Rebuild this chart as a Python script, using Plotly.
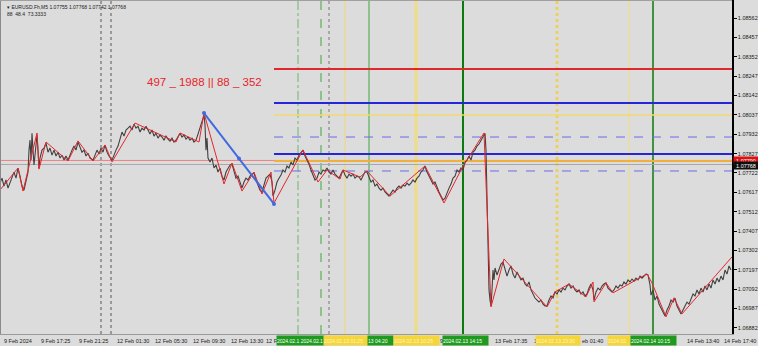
import plotly.graph_objects as go

# ---------------- data ----------------
bars = [0,2,4,6,8,10,12,14,16,18,20,22,24,26,28,29,30,31,32,33,34,36,37,38,39,40,42,44,46,48,50,52,54,56,58,60,62,64,66,68,70,72,74,76,78,80,82,84,86,88,90,93,95,97,99,101,103,105,107,109,112,114,116,118,120,122,124,126,128,130,132,134,136,138,140,142,144,146,148,150,152,154,156,158,160,162,164,166,168,170,172,174,176,178,180,182,184,186,188,190,192,194,196,198,200,202,204,205,206,207,208,210,212,214,216,218,220,222,224,226,228,230,232,234,236,238,240,242,244,246,248,250,252,254,256,258,260,262,264,266,268,270,272,273,275,277,279,281,283,285,287,289,291,293,295,297,299,301,303,305,307,309,311,313,315,317,319,321,323,325,327,329,331,333,335,337,339,341,343,345,347,349,351,353,355,357,359,361,363,365,367,369,371,373,375,377,379,381,383,385,387,389,391,393,395,397,399,401,403,405,407,409,411,413,415,417,419,421,423,425,427,429,431,433,435,437,439,441,443,445,447,449,451,453,455,457,459,461,463,465,467,469,471,473,475,477,479,481,483,485,486,487,488,489,490,491,492,493,494,495,497,499,501,503,505,507,509,511,513,515,517,519,521,523,525,527,529,531,533,535,537,539,541,543,545,547,549,551,553,555,557,559,561,563,565,567,569,571,573,575,577,579,581,583,585,587,589,591,593,594,596,598,600,602,604,606,608,610,612,614,616,618,620,622,624,626,628,630,632,634,636,638,640,642,644,646,648,650,651,653,655,657,659,661,663,665,667,669,671,673,675,677,679,681,683,685,687,689,691,693,695,697,699,701,703,705,707,709,711,713,715,717,719,721,723,725,727,729,731]
close = [1.07667,1.07694,1.07651,1.07684,1.07640,1.07673,1.07705,1.07727,1.07694,1.07749,1.07705,1.07651,1.07629,1.07673,1.07727,1.07846,1.07900,1.07792,1.07938,1.07846,1.07765,1.07873,1.07928,1.07846,1.07749,1.07803,1.07846,1.07857,1.07884,1.07835,1.07857,1.07819,1.07846,1.07814,1.07835,1.07803,1.07819,1.07792,1.07814,1.07792,1.07825,1.07846,1.07868,1.07846,1.07890,1.07857,1.07835,1.07846,1.07814,1.07830,1.07803,1.07792,1.07819,1.07846,1.07825,1.07857,1.07835,1.07873,1.07835,1.07814,1.07792,1.07825,1.07846,1.07868,1.07900,1.07944,1.07922,1.07955,1.07965,1.07976,1.07955,1.07987,1.07965,1.07976,1.07944,1.07965,1.07955,1.07976,1.07955,1.07933,1.07955,1.07922,1.07938,1.07911,1.07928,1.07917,1.07900,1.07922,1.07906,1.07895,1.07911,1.07890,1.07900,1.07922,1.07938,1.07917,1.07928,1.07906,1.07917,1.07900,1.07911,1.07890,1.07900,1.07933,1.07965,1.07998,1.08036,1.07982,1.07846,1.07911,1.07803,1.07781,1.07803,1.07749,1.07765,1.07727,1.07749,1.07705,1.07684,1.07727,1.07749,1.07765,1.07770,1.07727,1.07694,1.07705,1.07667,1.07640,1.07673,1.07694,1.07684,1.07705,1.07716,1.07722,1.07684,1.07651,1.07629,1.07619,1.07662,1.07694,1.07705,1.07716,1.07673,1.07597,1.07629,1.07673,1.07694,1.07711,1.07738,1.07727,1.07760,1.07749,1.07781,1.07765,1.07803,1.07792,1.07819,1.07835,1.07846,1.07814,1.07792,1.07770,1.07738,1.07705,1.07684,1.07694,1.07727,1.07716,1.07738,1.07732,1.07749,1.07727,1.07716,1.07738,1.07716,1.07705,1.07694,1.07716,1.07738,1.07711,1.07694,1.07716,1.07705,1.07716,1.07694,1.07705,1.07700,1.07684,1.07705,1.07727,1.07727,1.07694,1.07673,1.07684,1.07651,1.07662,1.07640,1.07629,1.07640,1.07619,1.07608,1.07597,1.07613,1.07629,1.07619,1.07640,1.07651,1.07640,1.07656,1.07651,1.07667,1.07656,1.07667,1.07684,1.07673,1.07694,1.07705,1.07727,1.07738,1.07760,1.07727,1.07705,1.07684,1.07662,1.07673,1.07640,1.07619,1.07597,1.07575,1.07586,1.07619,1.07640,1.07662,1.07694,1.07705,1.07738,1.07727,1.07749,1.07738,1.07781,1.07792,1.07814,1.07792,1.07835,1.07846,1.07868,1.07879,1.07900,1.07922,1.07938,1.07846,1.07575,1.07223,1.07088,1.07033,1.07001,1.07088,1.07196,1.07142,1.07207,1.07169,1.07196,1.07228,1.07239,1.07196,1.07163,1.07196,1.07218,1.07174,1.07152,1.07185,1.07163,1.07142,1.07152,1.07120,1.07109,1.07131,1.07088,1.07066,1.07044,1.07033,1.07022,1.07033,1.07011,1.07001,1.07001,1.07033,1.07055,1.07044,1.07077,1.07066,1.07088,1.07077,1.07098,1.07088,1.07109,1.07120,1.07098,1.07109,1.07088,1.07077,1.07088,1.07066,1.07077,1.07055,1.07066,1.07098,1.07120,1.07088,1.07033,1.07077,1.07098,1.07088,1.07109,1.07120,1.07126,1.07098,1.07088,1.07077,1.07088,1.07109,1.07098,1.07115,1.07109,1.07131,1.07120,1.07142,1.07131,1.07147,1.07136,1.07152,1.07142,1.07163,1.07152,1.07163,1.07174,1.07169,1.07115,1.07060,1.07088,1.07033,1.07055,1.07011,1.06990,1.06968,1.06946,1.06979,1.07001,1.07033,1.07022,1.07044,1.07001,1.06979,1.06957,1.06979,1.07001,1.07022,1.07011,1.07044,1.07066,1.07055,1.07088,1.07066,1.07098,1.07077,1.07109,1.07088,1.07120,1.07098,1.07142,1.07120,1.07152,1.07131,1.07163,1.07142,1.07196,1.07174,1.07218,1.07196]

zz_bars = [0,18,23,37,39,46,68,78,93,105,112,135,176,180,199,204,224,232,242,254,262,271,274,303,318,327,340,343,360,367,390,425,444,462,484,491,504,547,555,569,586,593,594,606,613,647,652,666,674,682,732]
zz_price = [1.07630,1.07749,1.07624,1.07939,1.07743,1.07890,1.07787,1.07896,1.07787,1.07874,1.07782,1.07993,1.07890,1.07939,1.07890,1.08047,1.07662,1.07776,1.07624,1.07727,1.07608,1.07727,1.07559,1.07847,1.07673,1.07738,1.07689,1.07738,1.07700,1.07733,1.07597,1.07760,1.07559,1.07749,1.07939,1.06996,1.07256,1.06996,1.07077,1.07120,1.07050,1.07131,1.07023,1.07126,1.07072,1.07175,1.07126,1.06942,1.07045,1.06958,1.07267]

trend_bars = [204, 239, 274]
trend_price = [1.08047, 1.07800, 1.07554]

level_price = [1.08286, 1.08101, 1.08036, 1.07917, 1.07825, 1.07787, 1.07733]
level_color = ["#e0282c", "#2626d8", "#f2d870", "#6a6ae6", "#2626d8", "#f0b040", "#6a6ae6"]
level_width = [2, 2, 1.5, 1, 2, 2, 1]
level_dash = ["solid", "solid", "solid", "dash", "solid", "solid", "dash"]
level_start = 274

bid_price = 1.07768
mark_price = 1.07790

vline_bars = [101, 111, 298, 321, 329, 345, 369, 416, 463, 557, 629, 653]
vline_color = ["#555555", "#555555", "#6ab86a", "#3ea83e", "#777777", "#f0d870", "#3ea83e",
               "#f2dc80", "#0c7a0c", "#ecd060", "#f2dc80", "#0c7a0c"]
vline_width = [1, 1, 1, 1, 1, 1, 1, 3, 2, 3, 1, 1.5]
vline_dash = ["dot", "dot", "dashdot", "dash", "dot", "solid", "solid", "solid", "solid", "dot", "solid", "solid"]

ytick_vals = [1.08562, 1.08457, 1.08352, 1.08247, 1.08142, 1.08037, 1.07932, 1.07827, 1.07722,
              1.07617, 1.07512, 1.07407, 1.07302, 1.07197, 1.07092, 1.06987, 1.06882]

# visible (partly covered) time labels, as they show on the axis
time_bars = [2, 39, 77, 115, 153, 191, 229, 264, 438, 493, 532, 580, 685, 722]
time_text = ["9 Feb 2024", "9 Feb 17:25", "9 Feb 21:25", "12 Feb 01:30", "12 Feb 05:30",
             "12 Feb 09:30", "12 Feb 13:30", "12 F", "9", "13 Feb 17:35",
             "1", "eb 01:40", "14 Feb 13:40", "14 Feb 17:40"]

box_start = [276, 323, 367, 393, 442, 535, 607, 630]
box_end = [323, 367, 392, 438, 487, 579, 630, 675]
box_text = ["2024.02.1 2024.02.1", "2024.02.13 01:25", "13 04:20", "2024.02.13 10:25",
            "2024.02.13 14:15", "2024.02.13 23:30", "2024.02.", "2024.02.14 10:15"]
box_color = ["#1e9a1e", "#f5d53c", "#1e9a1e", "#f5d53c", "#1e9a1e", "#f5d53c", "#f5d53c", "#1e9a1e"]

header1 = "▾ EURUSD.Fh,M5 1.07755 1.07768 1.07742 1.07768"
header2 = "88  48.4  73.3333"
info_text = "497 _ 1988 || 88 _ 352"

# ---------------- figure ----------------
FONT = "Liberation Sans"
Y_RANGE = [1.06849, 1.08660]
X_RANGE = [0, 732]

fig = go.Figure()

shapes = []
for b, c, w, d in zip(vline_bars, vline_color, vline_width, vline_dash):
    shapes.append(dict(type="line", xref="x", yref="paper", x0=b, x1=b, y0=0, y1=1,
                       line=dict(color=c, width=w, dash=d), layer="below"))
shapes.append(dict(type="line", xref="paper", yref="y", x0=0, x1=1, y0=mark_price, y1=mark_price,
                   line=dict(color="#f08080", width=1), layer="below"))
shapes.append(dict(type="line", xref="paper", yref="y", x0=0, x1=1, y0=bid_price, y1=bid_price,
                   line=dict(color="#a8a8b0", width=1), layer="below"))
for p, c, w, d in zip(level_price, level_color, level_width, level_dash):
    shapes.append(dict(type="line", xref="x", yref="y", x0=level_start, x1=X_RANGE[1], y0=p, y1=p,
                       line=dict(color=c, width=w, dash=d), layer="below"))
shapes.append(dict(type="line", xref="paper", yref="paper", x0=0, x1=0, y0=0, y1=1,
                   line=dict(color="#8a8a8a", width=2)))
shapes.append(dict(type="line", xref="paper", yref="paper", x0=0, x1=1, y0=1, y1=1,
                   line=dict(color="#a0a0a0", width=2)))

fig.add_trace(go.Scatter(x=bars, y=close, mode="lines",
                         line=dict(color="#404040", width=1.1), hoverinfo="skip"))
fig.add_trace(go.Scatter(x=zz_bars, y=zz_price, mode="lines",
                         line=dict(color="#e8242a", width=1), hoverinfo="skip"))
fig.add_trace(go.Scatter(x=trend_bars, y=trend_price, mode="lines+markers",
                         line=dict(color="#4169e1", width=2),
                         marker=dict(color="#4169e1", size=4), hoverinfo="skip"))

ann = []
ann.append(dict(xref="paper", yref="paper", x=0, y=1, xanchor="left", yanchor="top",
                xshift=5, yshift=-2, text=header1, showarrow=False,
                font=dict(family=FONT, size=5, color="#202020")))
ann.append(dict(xref="paper", yref="paper", x=0, y=1, xanchor="left", yanchor="top",
                xshift=5, yshift=-9, text=header2, showarrow=False,
                font=dict(family=FONT, size=5, color="#202020")))
ann.append(dict(xref="x", yref="y", x=204, y=1.08215, xanchor="center", yanchor="middle",
                text=info_text, showarrow=False,
                font=dict(family=FONT, size=11.5, color="#e8242a")))

for b, t in zip(time_bars, time_text):
    ann.append(dict(xref="x", yref="paper", x=b, y=0, xanchor="left", yanchor="top",
                    yshift=-2, text=t, showarrow=False,
                    font=dict(family=FONT, size=5.5, color="#202020")))
for s, e, t, c in zip(box_start, box_end, box_text, box_color):
    ann.append(dict(xref="x", yref="paper", x=s, y=0, xanchor="left", yanchor="top",
                    yshift=-1, text=t, showarrow=False, bgcolor=c, width=e - s, height=9,
                    align="left", borderpad=0,
                    font=dict(family=FONT, size=5,
                              color="#ffffff" if c == "#1e9a1e" else "#fff6c0")))
ann.append(dict(xref="paper", yref="y", x=1, y=mark_price, xanchor="left", yanchor="middle",
                xshift=1, text=f"{mark_price:.5f}", showarrow=False, bgcolor="#e01010",
                width=24, height=7, borderpad=0,
                font=dict(family=FONT, size=5.5, color="#ffffff")))
ann.append(dict(xref="paper", yref="y", x=1, y=bid_price, xanchor="left", yanchor="middle",
                xshift=1, yshift=-1, text=f"{bid_price:.5f}", showarrow=False, bgcolor="#101010",
                width=24, height=7, borderpad=0,
                font=dict(family=FONT, size=5.5, color="#ffffff")))

fig.update_layout(
    width=758, height=346,
    margin=dict(l=0, r=26, t=0, b=12),
    paper_bgcolor="#dcdcdc", plot_bgcolor="#dcdcdc",
    showlegend=False,
    shapes=shapes,
    annotations=ann,
    xaxis=dict(range=X_RANGE, showgrid=False, zeroline=False, showticklabels=False,
               showline=True, linecolor="#9a9a9a", linewidth=1, ticks=""),
    yaxis=dict(range=Y_RANGE, side="right", showgrid=False, zeroline=False,
               tickvals=ytick_vals, ticktext=[f"{v:.5f}" for v in ytick_vals],
               ticks="outside", ticklen=3, tickcolor="#000000",
               showline=True, linecolor="#000000", linewidth=1.5,
               tickfont=dict(family=FONT, size=5.5, color="#202020")),
)

fig.write_html("out.html")
